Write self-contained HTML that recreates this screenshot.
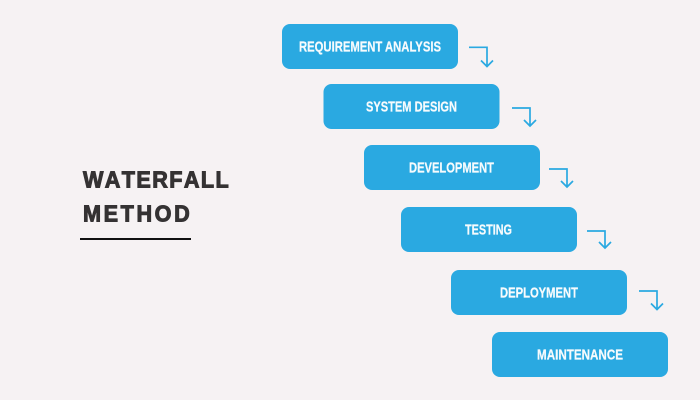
<!DOCTYPE html>
<html>
<head>
<meta charset="utf-8">
<style>
html,body{margin:0;padding:0;background:#f6f2f3}
svg{display:block}
.b{fill:#2aa9e1}
.t{font-family:"Liberation Sans",sans-serif;font-weight:700;font-size:15px;fill:#f7fbfd;stroke:#f7fbfd;stroke-width:.25px}
.h{font-family:"Liberation Sans",sans-serif;font-weight:700;font-size:23px;fill:#353233;stroke:#353233;stroke-width:1px;font-kerning:none}
.a{fill:none;stroke:#2aa9e1;stroke-width:1.7}
</style>
</head>
<body>
<svg width="700" height="400" viewBox="0 0 700 400" xmlns="http://www.w3.org/2000/svg">
<rect width="700" height="400" fill="#f6f2f3"/>

<rect class="b" x="282" y="24" width="176" height="45" rx="8"/>
<rect class="b" x="323.5" y="84" width="176" height="45" rx="8"/>
<rect class="b" x="364" y="145" width="176" height="45" rx="8"/>
<rect class="b" x="401" y="207" width="176" height="45" rx="8"/>
<rect class="b" x="451" y="270" width="176" height="45" rx="8"/>
<rect class="b" x="492" y="332" width="176" height="45" rx="8"/>

<text class="t" x="299" y="51.7" textLength="142" lengthAdjust="spacingAndGlyphs">REQUIREMENT ANALYSIS</text>
<text class="t" x="366" y="111.7" textLength="91" lengthAdjust="spacingAndGlyphs">SYSTEM DESIGN</text>
<text class="t" x="409" y="172.7" textLength="85" lengthAdjust="spacingAndGlyphs">DEVELOPMENT</text>
<text class="t" x="465" y="234.7" textLength="47" lengthAdjust="spacingAndGlyphs">TESTING</text>
<text class="t" x="500" y="297.7" textLength="78" lengthAdjust="spacingAndGlyphs">DEPLOYMENT</text>
<text class="t" x="537" y="359.7" textLength="86" lengthAdjust="spacingAndGlyphs">MAINTENANCE</text>

<path class="a" d="M469 47.3H487V66M481 60.5L487 66.5L493 60.5"/>
<path class="a" d="M512 108H530V126M524 120L530 126L536 120"/>
<path class="a" d="M549 169H567V187M561 181L567 187L573 181"/>
<path class="a" d="M587 231H605V248M599 242L605 248L611 242"/>
<path class="a" d="M639 291H657V309.500M651 303.500L657 309.500L663 303.500"/>

<text class="h" transform="translate(83 187.5) scale(.94 1)" x="0" y="0" textLength="155" lengthAdjust="spacing">WATERFALL</text>
<text class="h" transform="translate(83 221.5) scale(.94 1)" x="0" y="0" textLength="113.500" lengthAdjust="spacing">METHOD</text>
<rect x="80" y="238" width="111" height="2" fill="#111"/>
</svg>
</body>
</html>
